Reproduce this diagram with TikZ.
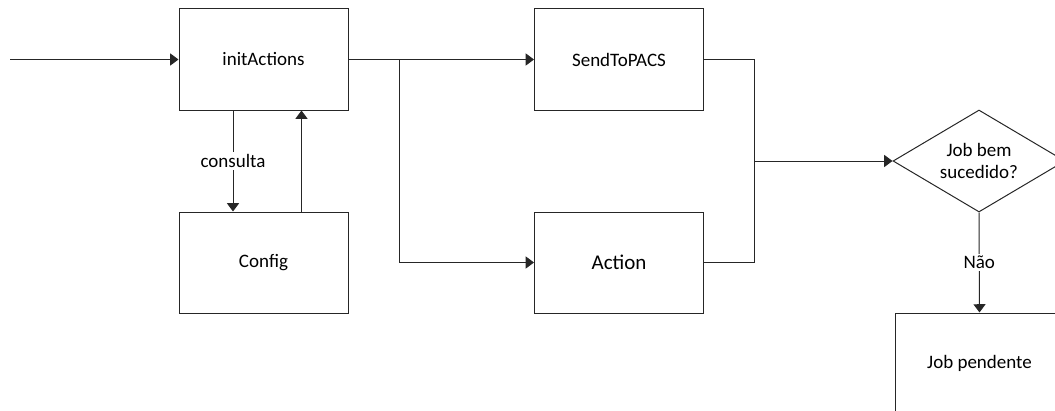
\documentclass[tikz,border=0pt]{standalone}
\usepackage{fontspec}
\setmainfont{Carlito}
\usetikzlibrary{arrows.meta,shapes.geometric}
\tikzset{
  box/.style={draw=black!85, line width=0.75pt, rectangle, minimum width=126.75pt,
    minimum height=75.75pt, inner sep=0pt, font=\fontsize{14.25}{17}\selectfont},
  decision/.style={draw=black!85, line width=0.75pt, diamond, aspect=1.69,
    minimum width=129pt, minimum height=76.5pt, inner sep=0pt, align=center,
    font=\fontsize{14.25}{16.3}\selectfont},
  flow/.style={draw=black!85, line width=0.75pt},
  arr/.style={flow, -{Triangle[length=6.2pt, width=9pt]}},
  lbl/.style={fill=white, inner sep=1.5pt, font=\fontsize{14.25}{17}\selectfont},
}
\begin{document}
\begin{tikzpicture}[x=0.75pt, y=-0.75pt]
  \useasboundingbox (0,0) rectangle (1055,410);
  \clip (0,0) rectangle (1055,410);

  % process blocks
  \node[box] (init)   at (263.5,59.5)  {initActions};
  \node[box] (config) at (263.5,262.5) {Config};
  \node[box] (send)   at (619,59.5)    {SendToPACS};
  \node[box, font=\fontsize{15.75}{18}\selectfont] (action) at (619,262.5) {Action};
  \node[decision] (q) at (979,161) {Job bem\\sucedido?};
  \node[box] (pend)   at (979.5,363.5) {Job pendente};

  % junction points
  \coordinate (start) at (10,59.5);
  \coordinate (split) at (399,59.5);
  \coordinate (join)  at (754,161);

  % entry
  \draw[arr] (start) -- (init.west);

  % configuration lookup
  \draw[arr] (init.south -| 233,0) -- node[lbl] {consulta} (config.north -| 233,0);
  \draw[arr] (config.north -| 301.5,0) -- (init.south -| 301.5,0);

  % fan out to the actions
  \draw[arr] (init.east) -- (send.west);
  \draw[arr] (split) |- (action.west);

  % merge into the decision
  \draw[flow] (send.east) -| (join);
  \draw[flow] (action.east) -| (join);
  \draw[arr] (join) -- (q.west);

  % negative branch
  \draw[arr] (q.south) -- node[lbl] {Não} (pend.north);
\end{tikzpicture}
\end{document}
